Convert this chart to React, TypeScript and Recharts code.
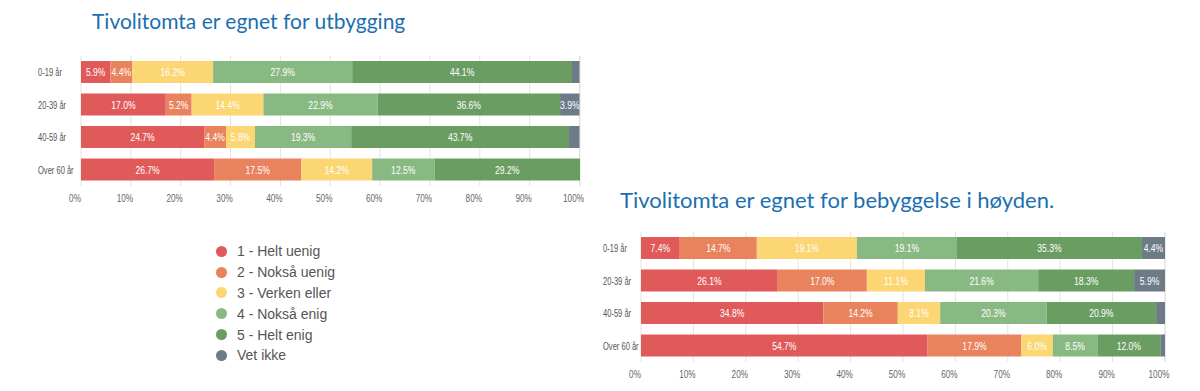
import { Bar, BarChart, CartesianGrid, LabelList, XAxis, YAxis } from 'recharts';

const ageGroups = ['0-19 år', '20-39 år', '40-59 år', 'Over 60 år'];

const seriesNames = ['1 - Helt uenig', '2 - Nokså uenig', '3 - Verken eller', '4 - Nokså enig', '5 - Helt enig', 'Vet ikke'];
const seriesKeys = ['s1', 's2', 's3', 's4', 's5', 's6'];
const seriesColors = ['#e05a59', '#e8835e', '#fbd672', '#89b982', '#6a9d61', '#6c7b86'];

// utbygging, per age group
const utbHeltUenig = [5.9, 17.0, 24.7, 26.7];
const utbNoksaUenig = [4.4, 5.2, 4.4, 17.5];
const utbVerken = [16.2, 14.4, 5.8, 14.2];
const utbNoksaEnig = [27.9, 22.9, 19.3, 12.5];
const utbHeltEnig = [44.1, 36.6, 43.7, 29.2];
const utbVetIkke = [1.5, 3.9, 2.1, 0];

// bebyggelse i høyden, per age group
const hoyHeltUenig = [7.4, 26.1, 34.8, 54.7];
const hoyNoksaUenig = [14.7, 17.0, 14.2, 17.9];
const hoyVerken = [19.1, 11.1, 8.1, 6.0];
const hoyNoksaEnig = [19.1, 21.6, 20.3, 8.5];
const hoyHeltEnig = [35.3, 18.3, 20.9, 12.0];
const hoyVetIkke = [4.4, 5.9, 1.7, 0.9];

const pctTicks = [0, 10, 20, 30, 40, 50, 60, 70, 80, 90, 100];

function buildRows(cols: number[][]) {
    return ageGroups.map((name, i) => {
        const row: any = { name };
        seriesKeys.forEach((k, j) => {
            row[k] = cols[j][i];
        });
        return row;
    });
}

const utbData = buildRows([utbHeltUenig, utbNoksaUenig, utbVerken, utbNoksaEnig, utbHeltEnig, utbVetIkke]);
const hoyData = buildRows([hoyHeltUenig, hoyNoksaUenig, hoyVerken, hoyNoksaEnig, hoyHeltEnig, hoyVetIkke]);

const smallFont = '"Liberation Sans", Arial, sans-serif';

// narrow text: the source uses a condensed face, squeeze a normal one
function NarrowText({ x, y, anchor, size, fill, sx = 0.78, children }: any) {
    return (
        <g transform={`translate(${x},${y}) scale(${sx},1)`}>
            <text x={0} y={0} textAnchor={anchor} fontSize={size} fill={fill} fontFamily={smallFont}>
                {children}
            </text>
        </g>
    );
}

function AgeTick(props: any) {
    const { y, payload, labelX } = props;
    return (
        <NarrowText x={labelX} y={y + 4} anchor="start" size={10.5} sx={0.72} fill="#555">
            {payload.value}
        </NarrowText>
    );
}

function PctTick(props: any) {
    const { x, y, payload } = props;
    return (
        <NarrowText x={x - 6} y={y + 8} anchor="middle" size={10.5} fill="#666">
            {payload.value}%
        </NarrowText>
    );
}

function SegmentLabel(props: any) {
    const { x, y, width, height, value } = props;
    if (value == null || value < 3) return null;
    return (
        <NarrowText x={x + width / 2} y={y + height / 2 + 4} anchor="middle" size={11} fill="#fff">
            {value.toFixed(1)}%
        </NarrowText>
    );
}

function StackedChart({ data, width, height, top, right, labelX }: any) {
    return (
        <BarChart width={width} height={height} data={data} layout="vertical" margin={{ top, right, bottom: 0, left: 0 }}>
            <CartesianGrid horizontal={false} stroke="#e3e3e3" />
            <XAxis
                type="number"
                domain={[0, 100]}
                ticks={pctTicks}
                axisLine={false}
                tickLine={false}
                height={24}
                tick={<PctTick />}
                interval={0}
            />
            <YAxis
                type="category"
                dataKey="name"
                width={81}
                axisLine={false}
                tickLine={false}
                tick={<AgeTick labelX={labelX} />}
            />
            {seriesKeys.map((k, j) => (
                <Bar key={k} dataKey={k} name={seriesNames[j]} stackId="a" fill={seriesColors[j]} barSize={22} isAnimationActive={false}>
                    <LabelList dataKey={k} content={<SegmentLabel />} />
                </Bar>
            ))}
        </BarChart>
    );
}

const titleStyle: any = {
    position: 'absolute',
    fontFamily: 'Lato, "Open Sans", sans-serif',
    color: '#1b6fb0',
    whiteSpace: 'nowrap',
    lineHeight: '24px',
};

export default function App() {
    return (
        <div style={{ position: 'absolute', left: 0, top: 0, width: 1200, height: 391, background: '#fff', overflow: 'hidden' }}>
            <div style={{ ...titleStyle, fontSize: 21, left: 92, top: 9 }}>Tivolitomta er egnet for utbygging</div>
            <div style={{ ...titleStyle, fontSize: 22, left: 620, top: 188 }}>Tivolitomta er egnet for bebyggelse i høyden.</div>

            <div style={{ position: 'absolute', left: 0, top: 0 }}>
                <StackedChart data={utbData} width={600} height={210} top={56} right={20} labelX={38} />
            </div>

            <div style={{ position: 'absolute', left: 560, top: 175 }}>
                <StackedChart data={hoyData} width={620} height={211} top={57} right={15} labelX={43} />
            </div>

            <div style={{ position: 'absolute', left: 216, top: 241, fontFamily: smallFont, fontSize: 14, color: '#555' }}>
                {seriesNames.map((n, j) => (
                    <div key={n} style={{ display: 'flex', alignItems: 'center', height: 20.8 }}>
                        <span style={{ display: 'inline-block', width: 11, height: 11, borderRadius: '50%', background: seriesColors[j], marginRight: 10 }} />
                        <span>{n}</span>
                    </div>
                ))}
            </div>
        </div>
    );
}
